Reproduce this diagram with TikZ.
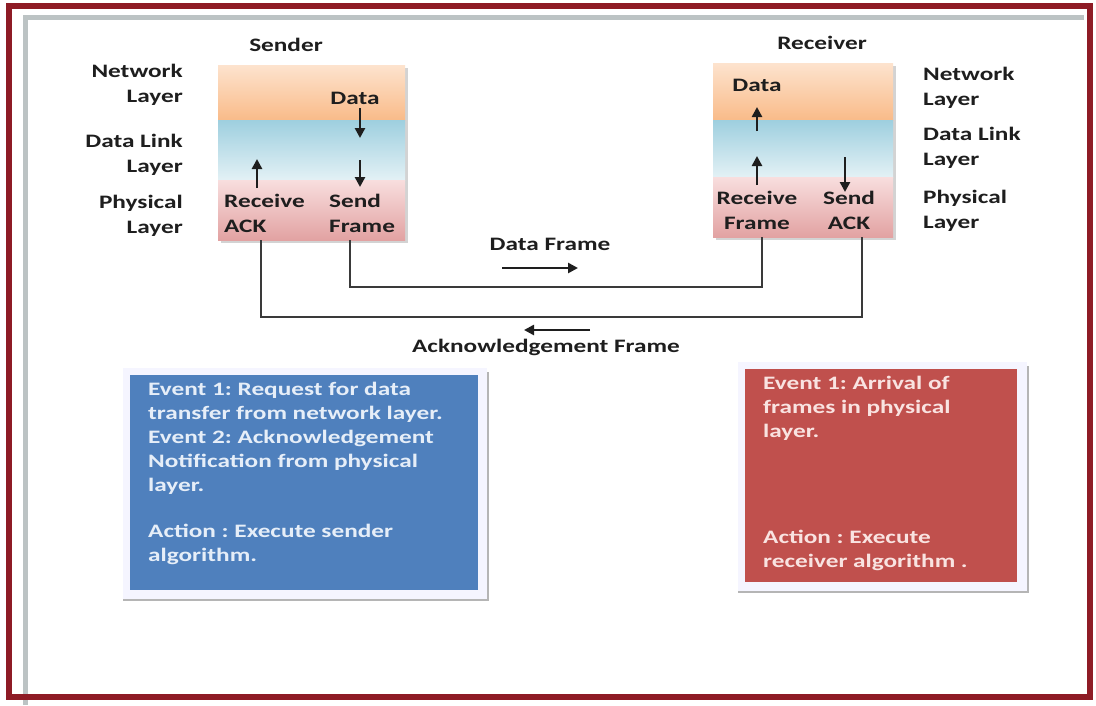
\documentclass[tikz,border=0pt]{standalone}
\usepackage{fontspec}
\newfontfamily\labelfont{Carlito}[FakeStretch=1.33]
\usetikzlibrary{arrows.meta}
\definecolor{framered}{HTML}{8E1B25}
\definecolor{framegray}{HTML}{BCC3C4}
\definecolor{inkc}{HTML}{1E1E1E}
\definecolor{wirec}{HTML}{3A3A3A}
\definecolor{orangetop}{HTML}{FDE3CE}
\definecolor{orangebot}{HTML}{F9BB89}
\definecolor{bluetop}{HTML}{9ECFDF}
\definecolor{bluebot}{HTML}{E3F1F5}
\definecolor{pinktop}{HTML}{F8DEDE}
\definecolor{pinkbot}{HTML}{E2A2A2}
\definecolor{eventblue}{HTML}{4F80BD}
\definecolor{eventred}{HTML}{C0504D}
\definecolor{bluetext}{HTML}{E6EEF8}
\definecolor{redtext}{HTML}{F9E3E1}
\definecolor{shadowc}{HTML}{B5B5B5}
\frenchspacing
\begin{document}
\begin{tikzpicture}[x=1pt,y=-1pt,
  lbl/.style={font=\labelfont\bfseries\fontsize{19}{25}\selectfont, text=inkc, inner sep=0pt},
  evtext/.style={font=\labelfont\bfseries\fontsize{19}{24}\selectfont, inner sep=0pt, align=left, anchor=north west},
  flow/.style={draw=inkc, line width=2.6pt, -{Triangle[length=10pt,width=10pt]}},
  wire/.style={draw=wirec, line width=2.2pt},
  orangeband/.style={top color=orangetop, bottom color=orangebot},
  blueband/.style={top color=bluetop, bottom color=bluebot},
  pinkband/.style={top color=pinktop, bottom color=pinkbot},
  boxshadow/.style={fill=shadowc!60},
  cardframe/.style={fill=white!96!blue},
  cardshadow/.style={draw=shadowc, line width=2.5pt}]
\useasboundingbox (0,0) rectangle (1096,705);
\fill[white] (0,0) rectangle (1096,705);

% page frame
\draw[framegray, line width=5pt] (25,705) -- (25,17) -- (1084,17);
\draw[framered, line width=6pt] (9,6) rectangle (1090,697);

% sender layer stack
\fill[boxshadow] (221,68) rectangle (408,243);
\shade[orangeband] (218,65) rectangle (405,120);
\shade[blueband] (218,120) rectangle (405,180);
\shade[pinkband] (218,180) rectangle (405,240);
\node[lbl] (sender) at (286,45) {Sender};

% receiver layer stack
\fill[boxshadow] (716,66) rectangle (896,240);
\shade[orangeband] (713,63) rectangle (893,120);
\shade[blueband] (713,120) rectangle (893,177);
\shade[pinkband] (713,177) rectangle (893,237);
\node[lbl] (receiver) at (822,43) {Receiver};

% layer names
\node[lbl, align=right, anchor=east] (snet) at (183,84.5) {Network\\Layer};
\node[lbl, align=right, anchor=east] (sdll) at (183,155) {Data Link\\Layer};
\node[lbl, align=right, anchor=east] (sphy) at (183,215.5) {Physical\\Layer};
\node[lbl, align=left, anchor=west] (rnet) at (923,88) {Network\\Layer};
\node[lbl, align=left, anchor=west] (rdll) at (923,148) {Data Link\\Layer};
\node[lbl, align=left, anchor=west] (rphy) at (923,210.5) {Physical\\Layer};

% sender contents
\node[lbl] (sdata) at (355,98) {Data};
\node[lbl, align=left, anchor=west] (srecv) at (224,213.5) {Receive\\ACK};
\node[lbl, align=left, anchor=west] (ssend) at (329,213.5) {Send\\Frame};
\coordinate (sd1) at (360,108); \coordinate (sd2) at (360,138);
\coordinate (sd3) at (360,160); \coordinate (sd4) at (360,187);
\coordinate (su1) at (257,188); \coordinate (su2) at (257,159);
\draw[flow] (sd1) -- (sd2);
\draw[flow] (sd3) -- (sd4);
\draw[flow] (su1) -- (su2);

% receiver contents
\node[lbl] (rdata) at (757,85) {Data};
\node[lbl, align=center] (rrecv) at (757,210.5) {Receive\\Frame};
\node[lbl, align=center] (rsend) at (849,210.5) {Send\\ACK};
\coordinate (ru1) at (757,131); \coordinate (ru2) at (757,107);
\coordinate (ru3) at (757,185); \coordinate (ru4) at (757,156);
\coordinate (rd1) at (845,157); \coordinate (rd2) at (845,192);
\draw[flow] (ru1) -- (ru2);
\draw[flow] (ru3) -- (ru4);
\draw[flow] (rd1) -- (rd2);

% frame paths between the two stacks
\coordinate (sfout) at (350,240);
\coordinate (rfin) at (762,237);
\coordinate (raout) at (862,237);
\coordinate (sain) at (261,240);
\draw[wire] (sfout) -- (sfout |- 0,287) -- (rfin |- 0,287) -- (rfin);
\draw[wire] (raout) -- (raout |- 0,317) -- (sain |- 0,317) -- (sain);

\node[lbl] (dflabel) at (550,244) {Data Frame};
\coordinate (df1) at (502,268); \coordinate (df2) at (578,268);
\draw[flow] (df1) -- (df2);
\node[lbl] (aflabel) at (546,347) {Acknowledgement Frame};
\coordinate (af1) at (590,330); \coordinate (af2) at (524,330);
\draw[flow] (af1) -- (af2);

% sender event card
\fill[cardframe] (123,368) rectangle (487,599);
\draw[cardshadow] (123,600) -- (488,600) -- (488,372);
\fill[eventblue] (130,375) rectangle (478,590);
\node[evtext, text=bluetext] (sevents) at (148,382)
  {Event 1: Request for data\\
   transfer from network layer.\\
   Event 2: Acknowledgement\\
   Notification from physical\\
   layer.\\[22pt]
   Action : Execute sender\\
   algorithm.};

% receiver event card
\fill[cardframe] (738,362) rectangle (1027,591);
\draw[cardshadow] (738,592) -- (1028,592) -- (1028,366);
\fill[eventred] (745,369) rectangle (1017,582);
\node[evtext, text=redtext] (revents) at (763,376)
  {Event 1: Arrival of\\
   frames in physical\\
   layer.\\[82pt]
   Action : Execute\\
   receiver algorithm .};
\end{tikzpicture}
\end{document}
